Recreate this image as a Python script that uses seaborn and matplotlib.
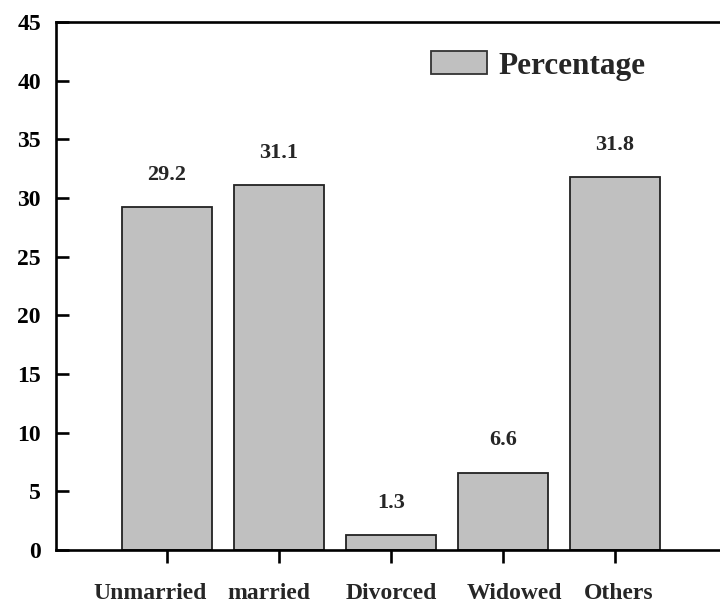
import seaborn as sns
import pandas as pd
import matplotlib.pyplot as plt
from matplotlib.patches import Patch

# data
categories = ["Unmarried", "married", "Divorced", "Widowed", "Others"]
percentage = [29.2, 31.1, 1.3, 6.6, 31.8]
y_ticks = [0, 5, 10, 15, 20, 25, 30, 35, 40, 45]

df = pd.DataFrame({"Status": categories, "Percentage": percentage})

sns.set_theme(style="white")
plt.rcParams['font.family'] = ['Liberation Serif', 'DejaVu Serif']
plt.rcParams['font.weight'] = 'bold'

fig = plt.figure(figsize=(7.2, 6.06), dpi=100)
ax = fig.add_axes([0.078, 0.0924, 0.922, 0.8713])

bar_color = "#c0c0c0"
sns.barplot(x="Status", y="Percentage", data=df, color=bar_color,
            width=0.8, edgecolor="#222222", linewidth=1.3, saturation=1,
            errorbar=None, ax=ax)

for i, v in enumerate(percentage):
    ax.annotate(f"{v:.1f}", (i, v), xytext=(0, 16), textcoords="offset points",
                ha="center", va="bottom", fontsize=16, fontweight="bold")

ax.set_xlim(-0.99, 4.94)
ax.set_ylim(0, 45)
ax.set_yticks(y_ticks)
ax.set_yticklabels([str(t) for t in y_ticks], fontsize=17, fontweight="bold")
ax.set_xticks(range(len(categories)))
ax.set_xticklabels([])
ax.set_xlabel("")
ax.set_ylabel("")

# category names, sitting a little off their ticks as in the original
nudges = [-12, -7, 0, 8, 3]
for i, (name, dx) in enumerate(zip(categories, nudges)):
    ax.annotate(name, (i, 0), xycoords=("data", "axes fraction"),
                xytext=(dx, -24), textcoords="offset points",
                ha="center", va="top", fontsize=17, fontweight="bold")

for side in ["left", "top", "bottom"]:
    ax.spines[side].set_visible(True)
    ax.spines[side].set_linewidth(1.9)
    ax.spines[side].set_color("black")
ax.spines["right"].set_visible(False)

ax.tick_params(axis="y", direction="in", length=9, width=1.9, pad=11, colors="black", left=True)
ax.tick_params(axis="x", direction="out", length=9, width=1.9, pad=12, colors="black", bottom=True)

handle = Patch(facecolor=bar_color, edgecolor="#333333", linewidth=1.3)
ax.legend([handle], ["Percentage"], loc="upper right", bbox_to_anchor=(0.93, 0.998),
          frameon=False, prop={"size": 22.5, "weight": "bold"},
          handlelength=1.8, handleheight=0.75, handletextpad=0.35)

fig.savefig("out.png", dpi=100)
